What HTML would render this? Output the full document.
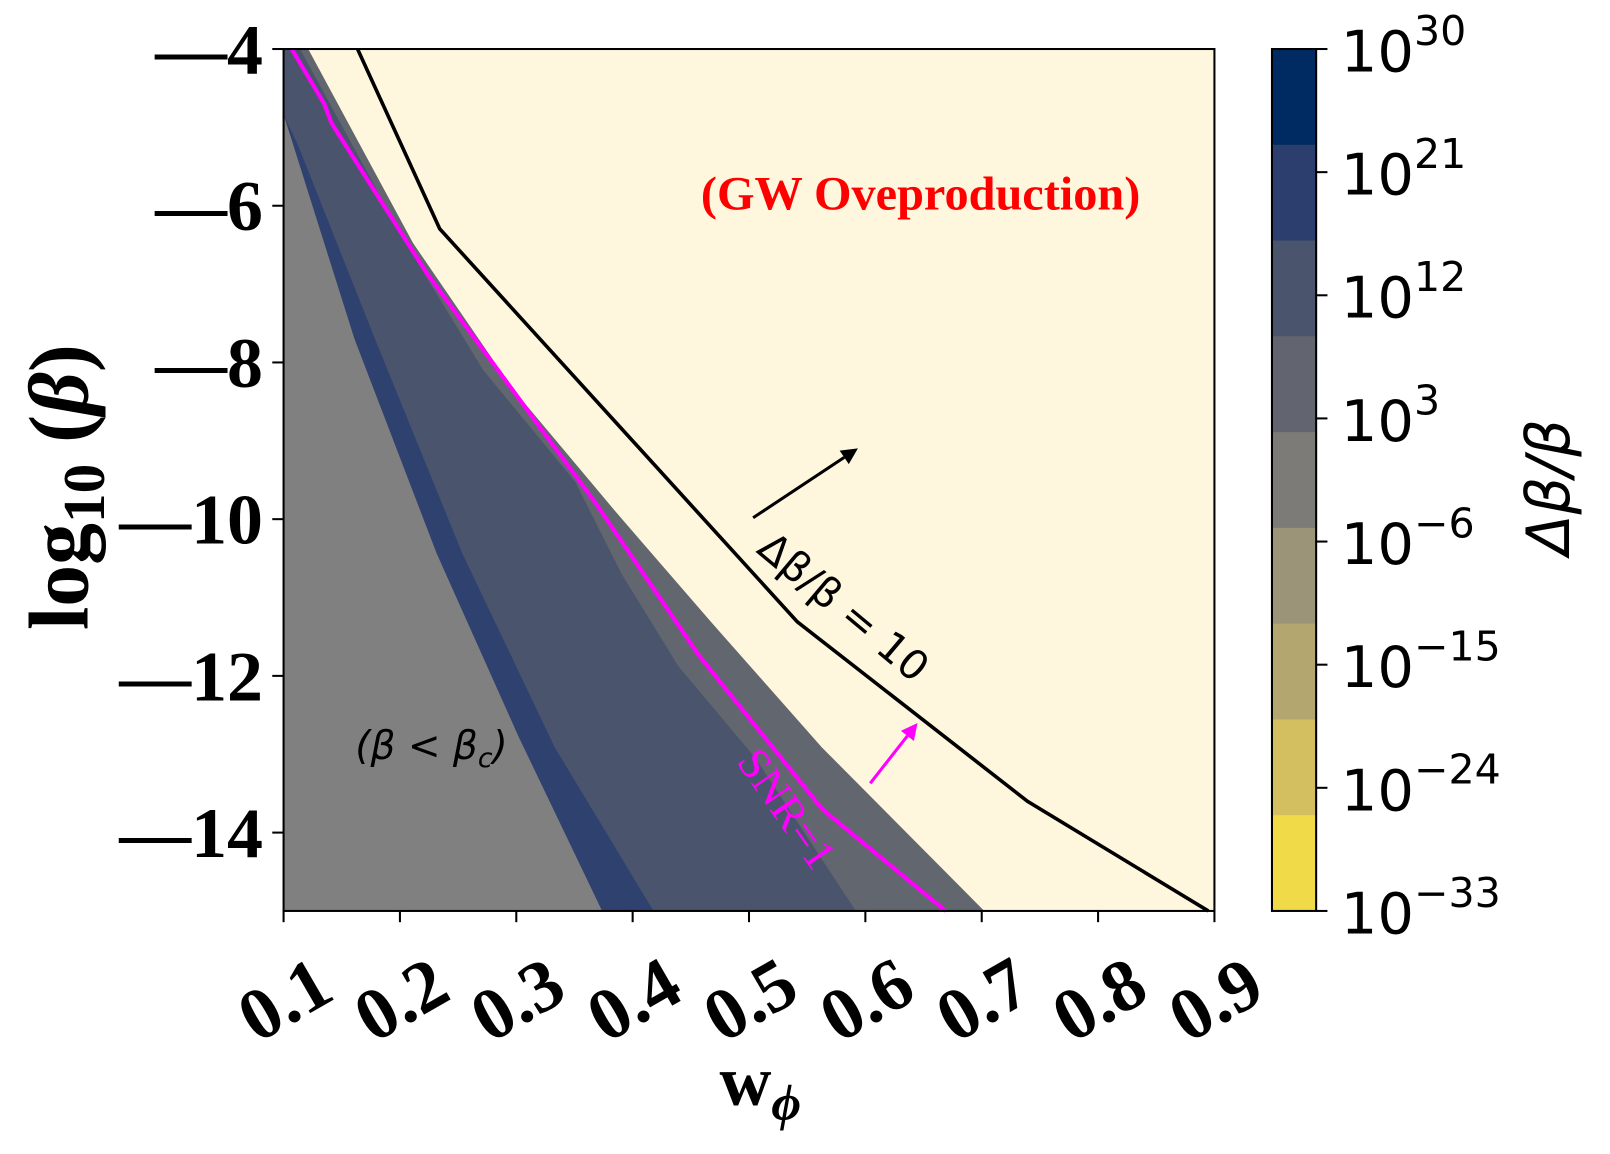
<!DOCTYPE html>
<html><head><meta charset="utf-8">
<style>
html,body{margin:0;padding:0;background:#fff;}
svg{display:block;}
.serif{font-family:"Liberation Serif",serif;font-weight:bold;}
.sans{font-family:"DejaVu Sans","Liberation Sans",sans-serif;}
</style></head>
<body>
<svg id="chart" width="1610" height="1154" viewBox="0 -2 1567 1130" preserveAspectRatio="none" xmlns="http://www.w3.org/2000/svg">
  <g id="plot"></g>
  <g id="axes"></g>
  <g id="cbar"></g>
  <text class="serif" x="896" y="203" font-size="47" fill="#ff0000" text-anchor="middle">(GW Oveproduction)</text>
  <text class="sans" x="420" y="741" font-size="38" font-style="italic" text-anchor="middle">(β &lt; β<tspan font-size="26" dy="8">c</tspan><tspan dy="-8">)</tspan></text>
  <text class="sans" font-size="40" transform="translate(735,538) rotate(40)">Δβ/β = 10</text>
  <text font-family="Liberation Serif,serif" font-size="44" fill="#ff00ff" transform="translate(716,744) rotate(55)">SNR=1</text>
  <text class="serif" x="740" y="1080" font-size="70" text-anchor="middle">w<tspan font-size="50" dy="14" font-style="italic">ϕ</tspan></text>
  <text class="serif" font-size="82" text-anchor="middle" transform="translate(85,475) rotate(-90)">log<tspan font-size="58" dy="16">10</tspan><tspan dy="-16"> (</tspan><tspan font-style="italic">β</tspan>)</text>
  <text class="sans" font-size="58" font-style="italic" text-anchor="middle" transform="translate(1527,475) rotate(-90)">Δβ/β</text>
</svg>
<script>
// ---- data (x = w_phi, y = log10 beta) ----
const xTicks = [0.1,0.2,0.3,0.4,0.5,0.6,0.7,0.8,0.9];
const yTicks = [-4,-6,-8,-10,-12,-14];
const contourW = [0.1636,0.2342,0.5415,0.7393,0.8947];
const contourB = [-4,-6.295,-11.31,-13.6,-15];
const snrW = [0.107,0.135,0.141,0.223,0.368,0.457,0.563,0.669];
const snrB = [-4,-4.70,-4.94,-6.86,-9.79,-11.74,-13.70,-15];
const edgeW = [0.1212,0.2113,0.2978,0.3861,0.4673,0.5627,0.7022];
const edgeB = [-4,-6.476,-8.353,-9.917,-11.311,-12.914,-15];
const mainW = [0.1141,0.2051,0.2713,0.3508,0.3905,0.4391,0.5053,0.5918];
const mainB = [-4,-6.476,-8.092,-9.526,-10.699,-11.872,-13.045,-15];
const blueW = [0.1124,0.1786,0.2536,0.3331,0.4179];
const blueB = [-5.225,-7.701,-10.438,-12.914,-15];
const critW = [0.1,0.1609,0.2316,0.3022,0.3737];
const critB = [-4.834,-7.701,-10.438,-12.784,-15];
const cbarLevels = [30,21,12,3,-6,-15,-24,-33];
const cbarColors = ["#002b62","#2c3e6d","#4a546c","#62656f","#7c7b78","#9b9479","#b3a66e","#d3be60","#f1da47"];

const NS="http://www.w3.org/2000/svg";
const L=276,R=1182,T=46,B=890;
const X=w=>L+(w-0.1)/0.8*(R-L);
const Y=v=>T+(-4-v)/11*(B-T);
function mk(tag,attrs,parent){const e=document.createElementNS(NS,tag);for(const k in attrs)e.setAttribute(k,attrs[k]);parent.appendChild(e);return e;}
function pts(ws,bs){return ws.map((w,i)=>X(w).toFixed(1)+","+Y(bs[i]).toFixed(1));}
const plot=document.getElementById('plot');
const axes=document.getElementById('axes');
const cbar=document.getElementById('cbar');

let r=mk('rect',{x:L,y:T,width:R-L,height:B-T,fill:"#fef7dd"},plot);



let p=mk('polygon',{points:[X(0.1)+","+Y(-4)].concat(pts(edgeW,edgeB),[X(0.1)+","+Y(-15)]).join(" "),fill:"#62666f"},plot);



p=mk('polygon',{points:[X(0.1)+","+Y(-4)].concat(pts(mainW,mainB),[X(0.1)+","+Y(-15)]).join(" "),fill:"#4a546c"},plot);



p=mk('polygon',{points:pts(blueW,blueB).concat(pts(critW,critB).reverse()).join(" "),fill:"#2f416e"},plot);



p=mk('polygon',{points:pts(critW,critB).concat([X(0.1)+","+Y(-15)]).join(" "),fill:"#808080"},plot);



let l=mk('polyline',{points:pts(snrW,snrB).join(" "),fill:"none",stroke:"#ff00ff","stroke-width":4},plot);



l=mk('polyline',{points:pts(contourW,contourB).join(" "),fill:"none",stroke:"#000","stroke-width":3.5},plot);



function arrow(x1,y1,x2,y2,c,name){
  const g=mk('g',{},plot);
  
  
  const a=Math.atan2(y2-y1,x2-x1),h=16,wd=8;
  const bx=x2-h*Math.cos(a),by=y2-h*Math.sin(a);
  mk('line',{x1:x1,y1:y1,x2:bx,y2:by,stroke:c,"stroke-width":3},g);
  mk('polygon',{points:`${x2},${y2} ${bx-wd*Math.sin(a)},${by+wd*Math.cos(a)} ${bx+wd*Math.sin(a)},${by-wd*Math.cos(a)}`,fill:c},g);
}
arrow(733,505,835,437,"#000","black-arrow");
arrow(847,765,893,706,"#ff00ff","magenta-arrow");

let f=mk('rect',{x:L,y:T,width:R-L,height:B-T,fill:"none",stroke:"#000","stroke-width":2},axes);



xTicks.forEach(t=>{
  const x=X(t);
  const tk=mk('line',{x1:x,y1:B,x2:x,y2:B+11,stroke:"#000","stroke-width":2},axes);
  
  
  const tx=mk('text',{class:"serif","font-size":72,"text-anchor":"end",transform:`translate(${x+52},${B+85}) rotate(-30)`},axes);
  
  
  tx.textContent=t.toFixed(1);
});
yTicks.forEach(t=>{
  const y=Y(t);
  const tk=mk('line',{x1:L-11,y1:y,x2:L,y2:y,stroke:"#000","stroke-width":2},axes);
  
  
  const tx=mk('text',{class:"serif","font-size":70,"text-anchor":"end",x:L-20,y:y+24},axes);
  
  
  tx.textContent="—"+Math.abs(t);
});

const CL=1238,CR=1281;
const bh=(B-T)/cbarColors.length;
cbarColors.forEach((c,i)=>{
  const rc=mk('rect',{x:CL,y:T+i*bh,width:CR-CL,height:bh+0.5,fill:c},cbar);
  
  
});
let cf=mk('rect',{x:CL,y:T,width:CR-CL,height:B-T,fill:"none",stroke:"#000","stroke-width":2},cbar);


cbarLevels.forEach((v,i)=>{
  const y=T+i*(B-T)/(cbarLevels.length-1);
  const tk=mk('line',{x1:CR,y1:y,x2:CR+11,y2:y,stroke:"#000","stroke-width":2},cbar);
  
  
  const tx=mk('text',{class:"sans","font-size":56,x:1305,y:y+22},cbar);
  
  
  tx.textContent="10";
  const s=mk('tspan',{"font-size":40,dy:-26},tx);
  s.textContent=(v<0?"−":"")+Math.abs(v);
});
</script>
</body></html>
